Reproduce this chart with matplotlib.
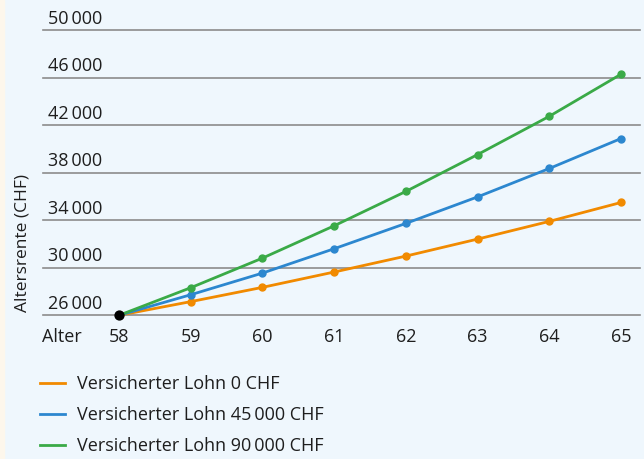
import matplotlib
matplotlib.use("Agg")
import matplotlib.pyplot as plt
from matplotlib.lines import Line2D
from matplotlib.patches import Rectangle

# Altersrente je nach Bezugsalter und versichertem Lohn
ages = [58, 59, 60, 61, 62, 63, 64, 65]
rente_0 = [26000, 27150, 28350, 29640, 30980, 32410, 33900, 35490]
rente_45000 = [26000, 27730, 29550, 31600, 33730, 35960, 38350, 40870]
rente_90000 = [26000, 28320, 30810, 33530, 36420, 39520, 42740, 46280]

labels = ["Versicherter Lohn 0 CHF",
          "Versicherter Lohn 45\u2009000 CHF",
          "Versicherter Lohn 90\u2009000 CHF"]
colors = ["#f18a00", "#2c87cf", "#3aaa47"]

y_ticks = [26000, 30000, 34000, 38000, 42000, 46000, 50000]
y_ticklabels = ["26\u2009000", "30\u2009000", "34\u2009000", "38\u2009000",
                "42\u2009000", "46\u2009000", "50\u2009000"]

plt.rcParams['font.family'] = ['Open Sans', 'DejaVu Sans']
TXT = "#1e1e1e"
BG = "#eff7fd"
FS = 13

fig = plt.figure(figsize=(6.44, 4.59), dpi=100)
fig.patch.set_facecolor(BG)
fig.patches.append(Rectangle((0, 0), 4 / 644, 1, transform=fig.transFigure,
                             color="#fdf7ec", zorder=0))

W, H = 644, 459
ax = fig.add_axes([43 / W, (H - 315.3) / H, 597 / W, 285.3 / H])
ax.set_facecolor(BG)
for s in ax.spines.values():
    s.set_visible(False)

ax.set_xlim(56.94, 65.265)
ax.set_ylim(26000, 50000)

# horizontale Linien mit Beschriftung darüber
for v, lab in zip(y_ticks, y_ticklabels):
    ax.axhline(v, color="#8c8c8c", lw=1.2, zorder=1, clip_on=False)
    ax.annotate(lab, xy=(0.009, v), xycoords=('axes fraction', 'data'),
                xytext=(0, 4.6), textcoords='offset points',
                ha='left', va='baseline', fontsize=FS, color=TXT,
                annotation_clip=False)
ax.set_yticks([])

for vals, col in zip([rente_0, rente_45000, rente_90000], colors):
    ax.plot(ages, vals, color=col, lw=2.0, marker='o', markersize=5,
            zorder=3, clip_on=False)
ax.plot(ages[0], rente_0[0], 'o', color='black', markersize=6.4,
        zorder=4, clip_on=False)

ax.set_xticks(ages)
ax.set_xticklabels([str(a) for a in ages], fontsize=FS, color=TXT)
ax.tick_params(axis='x', length=0, pad=9.5)
ax.annotate("Alter", xy=(-0.002, 0), xycoords='axes fraction',
            xytext=(0, -9.5), textcoords='offset points',
            ha='left', va='top', fontsize=FS, color=TXT,
            annotation_clip=False)

fig.text(22.5 / W, 1 - 243 / H, "Altersrente (CHF)", rotation=90,
         ha='center', va='center', fontsize=12.5, color=TXT)

handles = [Line2D([], [], color=c, lw=2.0) for c in colors]
fig.legend(handles, labels, loc='upper left',
           bbox_to_anchor=(40 / W, 1 - 375 / H), frameon=False,
           fontsize=FS, borderaxespad=0, borderpad=0,
           handlelength=1.4, handletextpad=0.65, labelspacing=0.73,
           labelcolor=TXT)

fig.savefig("out.png", dpi=100, facecolor=BG)
